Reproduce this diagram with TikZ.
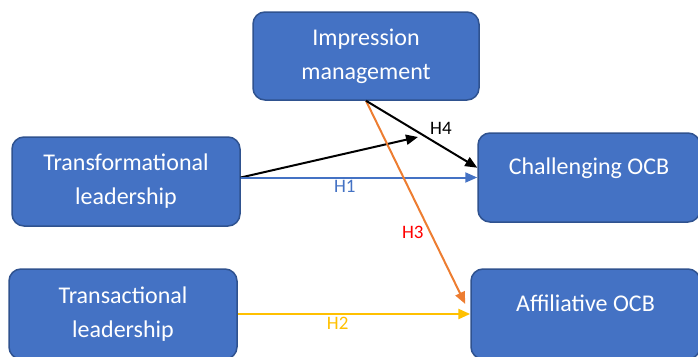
\documentclass[tikz,border=0pt]{standalone}
\usepackage{fontspec}
\setmainfont{Carlito}
\usetikzlibrary{arrows.meta, positioning, calc}
\definecolor{boxblue}{HTML}{4472C4}
\definecolor{boxedge}{HTML}{2F528F}
\definecolor{orangeline}{HTML}{ED7D31}
\definecolor{goldline}{HTML}{FFC000}

\begin{document}
\begin{tikzpicture}[
          x=1pt, y=-1pt,
          box/.style={rectangle, rounded corners=12pt, draw=boxedge, line width=1.5pt,
            fill=boxblue, text=white, align=center, inner sep=0pt,
            font=\fontsize{24}{34}\selectfont, minimum width=226pt, minimum height=88pt},
          oneline/.style={text height=14pt, text depth=20pt},
          link/.style={-{Triangle[length=12pt,width=10pt]}, line width=2pt},
          lbl/.style={font=\fontsize{19}{22}\selectfont, inner sep=2pt}
        ]
          \clip (0,0) rectangle (698,356);
          % boxes
          \node[box] (imp) at (366,56) {Impression\\management};
          \node[box, minimum width=228pt, minimum height=89pt] (transf) at (126,181.5) {Transformational\\leadership};
          \node[box, oneline, minimum width=222pt, minimum height=89pt] (chall) at (589,177.5) {Challenging OCB};
          \node[box, minimum width=228pt, minimum height=90pt] (transa) at (123,314) {Transactional\\leadership};
          \node[box, oneline, minimum width=229pt, minimum height=90pt] (affil) at (585.5,314) {Affiliative OCB};
          \coordinate (moderate) at (418,137);
          % paths
          \draw[link] (transf.east |- chall.west) -- (moderate);
          \draw[link, boxblue] (transf.east |- chall.west) -- node[lbl, below, pos=0.44] {H1} (chall.west);
          \draw[link, orangeline] (imp.south) -- node[lbl, left=4pt, text=red, pos=0.65] {H3} ($(affil.west)+(-5,-10)$);
          \draw[link] (imp.south) -- node[lbl, above right=0pt, pos=0.55] {H4} (chall.175);
          \draw[link, goldline, line width=2.5pt] (transa.east) -- node[lbl, below, pos=0.43] {H2} (affil.west);
        \end{tikzpicture}
\end{document}
